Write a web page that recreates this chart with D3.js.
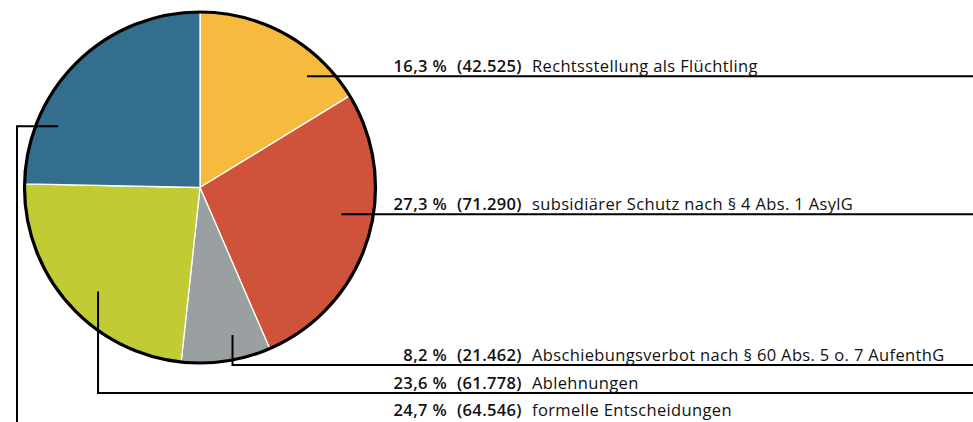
<!DOCTYPE html>
<html>
<head>
<meta charset="utf-8">
<script src="https://cdn.jsdelivr.net/npm/d3@7"></script>
<style>
  body { margin: 0; background: #fff; }
  svg { display: block; font-family: "Open Sans", "Noto Sans", sans-serif; }
</style>
</head>
<body>
<svg id="chart"></svg>
<script>
let width = 973,
  height = 422

// data, clockwise from 12 o'clock
let labels = [
  "Rechtsstellung als Flüchtling",
  "subsidiärer Schutz nach § 4 Abs. 1 AsylG",
  "Abschiebungsverbot nach § 60 Abs. 5 o. 7 AufenthG",
  "Ablehnungen",
  "formelle Entscheidungen"
]
let counts = [42525, 71290, 21462, 61778, 64546]
let colors = ["#f6ba3e", "#ce533a", "#9a9fa1", "#c2cb33", "#336e8f"]

// leader layout: where in the slice the line starts (t = share of slice angle, rf = share of radius)
let leaders = [
  {t: 0.75, rf: 0.88, kind: "right"},
  {t: 0.43, rf: 0.82, kind: "right"},
  {t: 0.37, rf: 0.86, kind: "down", y: 365},
  {t: 0.45, rf: 0.83, kind: "down", y: 393},
  {t: 0.25, rf: 0.88, kind: "left", x: 17, y: 426, textY: 416}
]

let de = d3.formatLocale({decimal: ",", thousands: ".", grouping: [3], currency: ["", " €"]})
let pctFormat = de.format(".1f"),
  numFormat = de.format(",")

let cx = 200, cy = 187.5, R = 175.5
let total = d3.sum(counts)

let svg = d3.select("#chart")
  .attr("width", width)
  .attr("height", height)

let pie = d3.pie().sort(null).value(d => d)
let arcs = pie(counts)
let arc = d3.arc().innerRadius(0).outerRadius(R)

let g = svg.append("g").attr("transform", `translate(${cx},${cy})`)

g.selectAll("path.slice")
  .data(arcs).enter()
  .append("path")
  .attr("class", "slice")
  .attr("d", arc)
  .attr("fill", (d, i) => colors[i])
  .attr("stroke", "#fff")
  .attr("stroke-width", 1.3)
  .attr("stroke-linejoin", "round")

g.append("circle")
  .attr("r", R)
  .attr("fill", "none")
  .attr("stroke", "#000")
  .attr("stroke-width", 3.2)

// leader lines + labels
arcs.forEach((a, i) => {
  let L = leaders[i]
  let ang = a.startAngle + L.t * (a.endAngle - a.startAngle)
  let ax = cx + Math.sin(ang) * R * L.rf,
    ay = cy - Math.cos(ang) * R * L.rf
  let pts, lineY
  if (L.kind == "right") {
    lineY = ay
    pts = [[ax, ay], [width, ay]]
  } else if (L.kind == "down") {
    lineY = L.y
    pts = [[ax, ay], [ax, L.y], [width, L.y]]
  } else {
    lineY = L.y
    pts = [[ax, ay], [L.x, ay], [L.x, L.y], [width, L.y]]
  }
  svg.append("path")
    .attr("d", d3.line()(pts))
    .attr("fill", "none")
    .attr("stroke", "#000")
    .attr("stroke-width", 2)

  let ty = L.textY || lineY - 4.5
  let t = svg.append("g")
    .attr("font-size", 16.5)
    .attr("letter-spacing", 0.35)
    .attr("fill", "#111")
  t.append("text")
    .attr("x", 447).attr("y", ty)
    .attr("text-anchor", "end")
    .attr("font-weight", 600)
    .text(pctFormat(counts[i] / total * 100) + " %")
  t.append("text")
    .attr("x", 457).attr("y", ty)
    .attr("font-weight", 600)
    .text("(" + numFormat(counts[i]) + ")")
  t.append("text")
    .attr("x", 532).attr("y", ty)
    .text(labels[i])
})
</script>
</body>
</html>
